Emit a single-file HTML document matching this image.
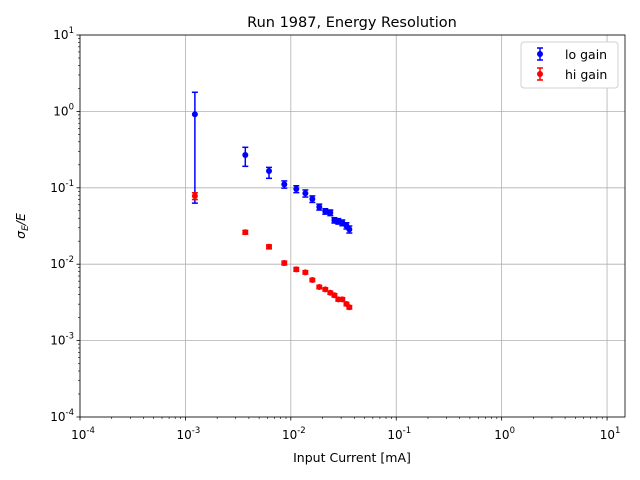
<!DOCTYPE html>
<html><head><meta charset="utf-8">
<style>
body{margin:0;background:#fff;}
svg{display:block;font-family:"DejaVu Sans","Liberation Sans",sans-serif;}
</style></head>
<body>
<svg id="chart" width="640" height="480" viewBox="0 0 640 480"></svg>
<script>
const xValues = [0.00123,0.0037,0.00621,0.00867,0.01127,0.01374,0.0160,0.01862,0.02123,0.0237,0.0259,0.0282,0.0308,0.0337,0.0359];
const loGain = [0.916,0.269,0.166,0.111,0.0964,0.0847,0.0713,0.0561,0.0492,0.0472,0.0376,0.0365,0.0349,0.0319,0.0286];
const loErrLow = [0.853,0.078,0.033,0.012,0.010,0.009,0.007,0.005,0.004,0.004,0.003,0.003,0.003,0.003,0.003];
const loErrHigh = [0.864,0.070,0.019,0.012,0.010,0.009,0.007,0.005,0.004,0.004,0.003,0.003,0.003,0.003,0.003];
const hiGain = [0.0781,0.0262,0.0169,0.01037,0.00857,0.00783,0.00621,0.00503,0.00469,0.00423,0.00392,0.00347,0.00347,0.00301,0.00273];
const hiErr = [0.008,0.0015,0.001,0.0006,0.0005,0.0004,0.0003,0.00025,0.00022,0.0002,0.0002,0.00018,0.00018,0.00015,0.00014];
const xTicks = ["10^-4","10^-3","10^-2","10^-1","10^0","10^1"];
const yTicks = ["10^-4","10^-3","10^-2","10^-1","10^0","10^1"];

const svg = document.getElementById('chart');
const NS = 'http://www.w3.org/2000/svg';
const L=80,R=625,T=35,B=417;
const xmin=-4, xmax=Math.log10(14.8), ymin=-4, ymax=1;
const xs = v => L + (Math.log10(v)-xmin)/(xmax-xmin)*(R-L);
const ys = v => B - (Math.log10(v)-ymin)/(ymax-ymin)*(B-T);
function el(tag, attrs, parent){const e=document.createElementNS(NS,tag);for(const k in attrs)e.setAttribute(k,attrs[k]);(parent||svg).appendChild(e);return e;}

for(let p=-4;p<=1;p++){
  const x=xs(Math.pow(10,p));
  const g=el('line',{x1:x,x2:x,y1:T,y2:B,stroke:'#b0b0b0','stroke-width':0.8});
  
  
  const y=ys(Math.pow(10,p));
  const h=el('line',{x1:L,x2:R,y1:y,y2:y,stroke:'#b0b0b0','stroke-width':0.8});
  
  
}
for(let p=-4;p<=1;p++){for(let m=2;m<=9;m++){
  const v=m*Math.pow(10,p);
  if(Math.log10(v)<=xmax){const x=xs(v);el('line',{x1:x,x2:x,y1:B,y2:B+2,stroke:'#000','stroke-width':0.6});}
  if(p<1){const y=ys(v);el('line',{x1:L-2,x2:L,y1:y,y2:y,stroke:'#000','stroke-width':0.6});}
}}
xTicks.forEach((t,i)=>{
  const p=parseInt(t.split('^')[1]);const x=xs(Math.pow(10,p));
  el('line',{x1:x,x2:x,y1:B,y2:B+3.5,stroke:'#000','stroke-width':0.8});
  const tx=el('text',{x:x+3,y:B+22,'text-anchor':'middle','font-size':12});
  tx.innerHTML='10<tspan dy="-6" font-size="8.5">'+p+'</tspan>';
  
  
});
yTicks.forEach((t,i)=>{
  const p=parseInt(t.split('^')[1]);const y=ys(Math.pow(10,p));
  el('line',{x1:L-3.5,x2:L,y1:y,y2:y,stroke:'#000','stroke-width':0.8});
  const tx=el('text',{x:L-6,y:y+4,'text-anchor':'end','font-size':12});
  tx.innerHTML='10<tspan dy="-6" font-size="8.5">'+p+'</tspan>';
  
  
});
const frame=el('rect',{x:L,y:T,width:R-L,height:B-T,fill:'none',stroke:'#000','stroke-width':0.8});



function series(vals, lo, hi, color, name){
  vals.forEach((v,i)=>{
    const x=xs(xValues[i]);
    const y1=ys(v-lo[i]), y2=ys(v+hi[i]);
    const g=el('g',{});
    
    
    el('line',{x1:x,x2:x,y1:y1,y2:y2,stroke:color,'stroke-width':1.5},g);
    el('line',{x1:x-3,x2:x+3,y1:y1,y2:y1,stroke:color,'stroke-width':1.5},g);
    el('line',{x1:x-3,x2:x+3,y1:y2,y2:y2,stroke:color,'stroke-width':1.5},g);
    el('circle',{cx:x,cy:ys(v),r:3,fill:color},g);
  });
}
series(loGain, loErrLow, loErrHigh, '#0000ff', 'lo-gain');
series(hiGain, hiErr, hiErr, '#ff0000', 'hi-gain');

const ti=el('text',{x:352,y:27,'text-anchor':'middle','font-size':14.5});
ti.textContent='Run 1987, Energy Resolution';


const xl=el('text',{x:352,y:462,'text-anchor':'middle','font-size':12.5});
xl.textContent='Input Current [mA]';


const yl=el('text',{x:0,y:0,'text-anchor':'middle','font-size':12.5,transform:'translate(25,226) rotate(-90)'});
yl.innerHTML='<tspan font-style="italic">σ</tspan><tspan dy="3" font-size="9" font-style="italic">E</tspan><tspan dy="-3" font-style="italic">/E</tspan>';



const lg=el('g',{});


el('rect',{x:521,y:42,width:97,height:46,rx:3,fill:'#fff',stroke:'#d0d0d0','stroke-width':1},lg);
[['lo gain','#0000ff',54],['hi gain','#ff0000',74]].forEach(([t,c,y])=>{
  const e=el('g',{},lg);
  
  
  el('line',{x1:540,x2:540,y1:y-6,y2:y+6,stroke:c,'stroke-width':1.5},e);
  el('line',{x1:537,x2:543,y1:y-6,y2:y-6,stroke:c,'stroke-width':1.5},e);
  el('line',{x1:537,x2:543,y1:y+6,y2:y+6,stroke:c,'stroke-width':1.5},e);
  el('circle',{cx:540,cy:y,r:3,fill:c},e);
  const tx=el('text',{x:565,y:y+5,'font-size':12.5},e);
  tx.textContent=t;
});
</script>
</body></html>
